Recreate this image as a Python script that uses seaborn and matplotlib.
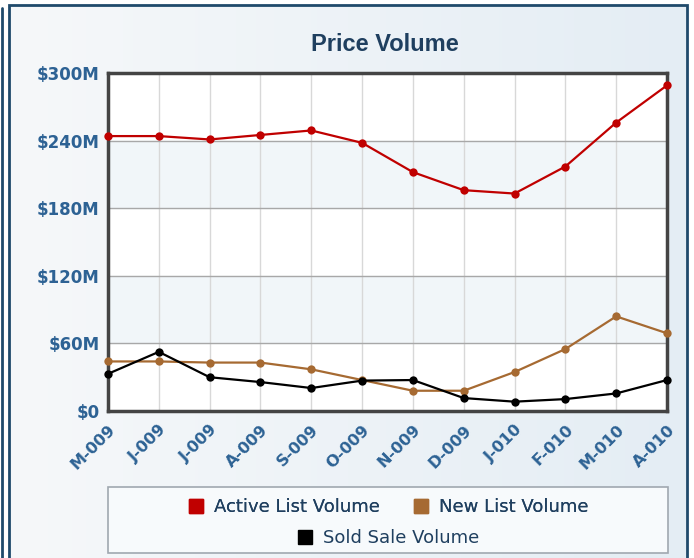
import numpy as np
import pandas as pd
import matplotlib.pyplot as plt
import matplotlib.patches as mpatches
from matplotlib.lines import Line2D
import seaborn as sns

months = ["M-009", "J-009", "J-009", "A-009", "S-009", "O-009",
          "N-009", "D-009", "J-010", "F-010", "M-010", "A-010"]
active_list = [244, 244, 241, 245, 249, 238, 212, 196, 193, 217, 256, 289]
new_list = [44, 44, 43, 43, 37, 27.5, 18, 18, 34.6, 55, 84, 69]
sold_sale = [33, 52.5, 30, 25.7, 20.4, 27, 27.5, 11.5, 8.3, 10.6, 15.6, 27.5]

series_names = ["Active List Volume", "New List Volume", "Sold Sale Volume"]
colors = ["#c00000", "#a66a32", "#000000"]
yticks = [0, 60, 120, 180, 240, 300]

df = pd.concat([
    pd.DataFrame({"pos": range(len(months)), "value": vals, "series": name})
    for name, vals in zip(series_names, [active_list, new_list, sold_sale])
], ignore_index=True)

sns.set_style("white")
plt.rcParams["font.family"] = ["DejaVu Sans"]

fig = plt.figure(figsize=(6.94, 5.58), dpi=100)
fig.patch.set_facecolor("white")

# panel background: light gradient inside a dark frame
bg = fig.add_axes([0, 0, 1, 1], zorder=-10)
bg.set_xlim(0, 1)
bg.set_ylim(0, 1)
grad = np.linspace(0, 1, 256)
bg.imshow(np.outer(np.ones(10), grad), aspect="auto",
          extent=[0.013, 0.99, 0, 0.991],
          cmap=sns.blend_palette(["#f6f8fa", "#e4edf4"], as_cmap=True))
bg.add_patch(mpatches.Rectangle((0.013, -0.01), 0.977, 1.001, fill=False,
                                edgecolor="#1f4a6b", linewidth=2.0))
bg.plot([0.0035, 0.0035], [0, 0.985], color="#1f4a6b", linewidth=2.0)
bg.axis("off")

ax = fig.add_axes([0.1556, 0.2634, 0.8055, 0.6058])
ax.set_facecolor("white")

# alternating horizontal bands
for i in range(len(yticks) - 1):
    if i % 2 == 1:
        ax.axhspan(yticks[i], yticks[i + 1], color="#f1f6f9", zorder=0)

sns.lineplot(data=df, x="pos", y="value", hue="series", palette=colors,
             marker="o", markersize=6, markeredgewidth=0, linewidth=1.6,
             legend=False, ax=ax, zorder=3, clip_on=False)

tick_color = "#2d6294"
ax.set_xlim(0, len(months) - 1)
ax.set_ylim(0, 300)
ax.set_xticks(range(len(months)))
ax.set_xticklabels(months, rotation=45, ha="right", rotation_mode="anchor",
                   color=tick_color, fontsize=11.5, fontweight="bold")
ax.set_yticks(yticks)
ax.set_yticklabels([f"${v}M" if v else "$0" for v in yticks],
                   color=tick_color, fontsize=12, fontweight="bold")
ax.tick_params(axis="y", length=0, pad=6)
ax.tick_params(axis="x", length=0, pad=8)
ax.set_xlabel("")
ax.set_ylabel("")

ax.grid(True, axis="x", color="#d8d8d8", linewidth=1)
ax.grid(True, axis="y", color="#a8a8a8", linewidth=1)
ax.set_axisbelow(True)
for sp in ax.spines.values():
    sp.set_visible(True)
    sp.set_color("#444444")
    sp.set_linewidth(2.5)

fig.text(0.555, 0.921, "Price Volume", ha="center", va="center",
         fontsize=17, fontweight="bold", color="#1f3f5f",
         family=["Liberation Sans", "DejaVu Sans"])

# legend box
bg.add_patch(mpatches.Rectangle((0.1556, 0.009), 0.807, 0.118,
                                facecolor="#f7fafc", edgecolor="#a0a8b0",
                                linewidth=1.2))
handles = [Line2D([], [], marker="s", linestyle="", color=c, markersize=10)
           for c in colors]
leg_kw = dict(loc="center", frameon=False, fontsize=13, handlelength=1.0,
              handletextpad=0.5, labelcolor="#1f3f5f")
leg1 = fig.legend(handles[:2], series_names[:2], ncol=2, columnspacing=1.8,
                  bbox_to_anchor=(0.559, 0.091), **leg_kw)
fig.add_artist(leg1)
fig.legend(handles[2:], series_names[2:], bbox_to_anchor=(0.559, 0.036),
           **leg_kw)

fig.savefig("out.png", dpi=100, facecolor=fig.get_facecolor())
